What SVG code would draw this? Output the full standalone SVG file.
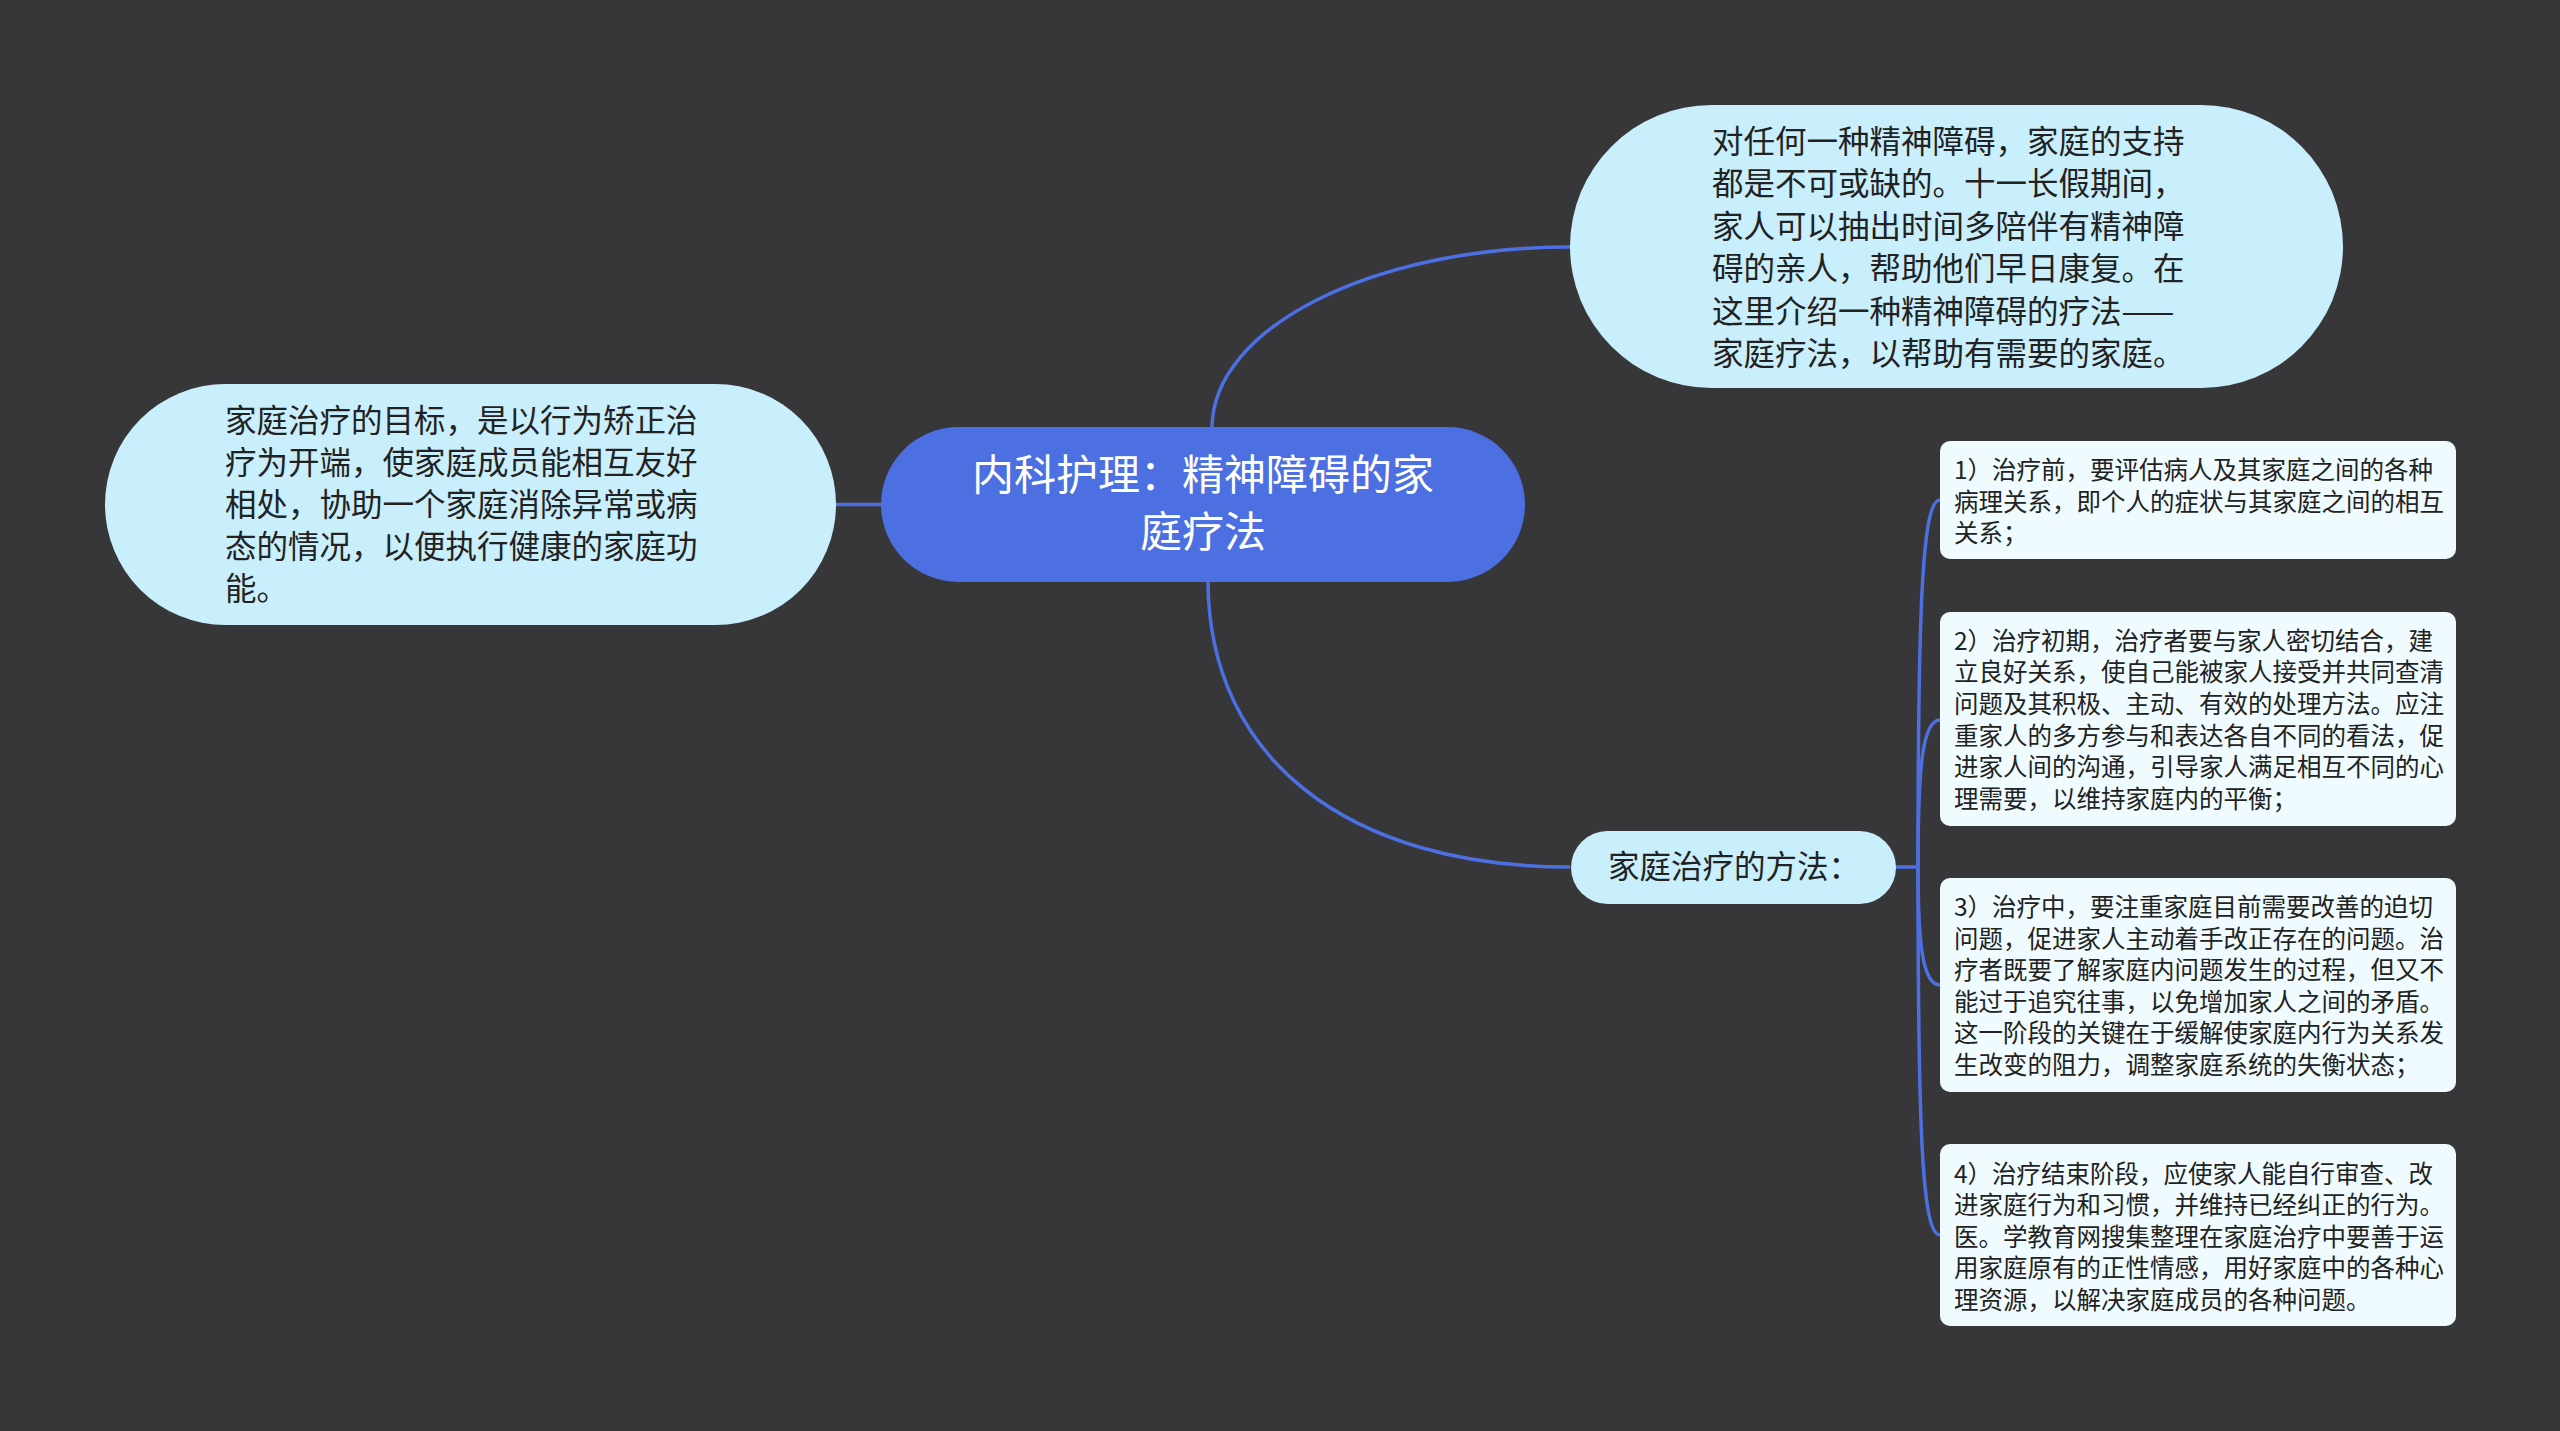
<svg xmlns="http://www.w3.org/2000/svg" width="2560" height="1431" viewBox="0 0 2560 1431">
<style>
text{font-family:"Noto Sans CJK SC","Noto Sans",sans-serif;}
.root-shape{fill:#4c6fe1;}
.root-text{fill:#ffffff;font-size:42px;text-anchor:middle;}
.pill{fill:#c9eefc;}
.body{fill:#222222;font-size:31.5px;}
.leaf{fill:#effbfe;}
.leaf-text{fill:#222222;font-size:24.5px;}
.conn{fill:none;stroke:#4c6fe1;stroke-width:3.5;}
</style>
<rect x="0" y="0" width="2560" height="1431" fill="#373638"/>
<g id="connectors">
<path class="conn" d="M1212,428 C1212,328 1372,247 1570,247"/>
<path class="conn" d="M1208,580 C1208,760 1350,867 1570,867"/>
<path class="conn" d="M882,504.5 L835,504.5"/>
<path class="conn" d="M1895,867 L1918,867"/>
<path class="conn" d="M1918,867 C1918,610 1922,500 1940,500"/>
<path class="conn" d="M1918,867 C1918,770 1922,720 1940,720"/>
<path class="conn" d="M1918,867 C1918,940 1922,985 1940,985"/>
<path class="conn" d="M1918,867 C1918,1130 1922,1235 1940,1235"/>
</g>
<g id="root">
<rect class="root-shape" x="881" y="427" width="644" height="155" rx="77.5"/>
<text class="root-text" x="1203" y="490">内科护理：精神障碍的家</text>
<text class="root-text" x="1203" y="547">庭疗法</text>
</g>
<g id="intro">
<rect class="pill" x="1570" y="105" width="773" height="283" rx="141.5"/>
<text class="body" x="1712" y="153">对任何一种精神障碍，家庭的支持</text>
<text class="body" x="1712" y="195.4">都是不可或缺的。十一长假期间，</text>
<text class="body" x="1712" y="237.8">家人可以抽出时间多陪伴有精神障</text>
<text class="body" x="1712" y="280.2">碍的亲人，帮助他们早日康复。在</text>
<text class="body" x="1712" y="322.6">这里介绍一种精神障碍的疗法——</text>
<text class="body" x="1712" y="365">家庭疗法，以帮助有需要的家庭。</text>
</g>
<g id="goal">
<rect class="pill" x="105" y="384" width="731" height="241" rx="120.5"/>
<text class="body" x="225" y="432">家庭治疗的目标，是以行为矫正治</text>
<text class="body" x="225" y="474">疗为开端，使家庭成员能相互友好</text>
<text class="body" x="225" y="516">相处，协助一个家庭消除异常或病</text>
<text class="body" x="225" y="558">态的情况，以便执行健康的家庭功</text>
<text class="body" x="225" y="600">能。</text>
</g>
<g id="methods">
<rect class="pill" x="1571" y="831" width="325" height="73" rx="36.5"/>
<text class="body" x="1608" y="878">家庭治疗的方法：</text>
</g>
<g id="step1">
<rect class="leaf" x="1940" y="441" width="516" height="118" rx="10"/>
<text class="leaf-text" x="1954" y="479">1）治疗前，要评估病人及其家庭之间的各种</text>
<text class="leaf-text" x="1954" y="510.5">病理关系，即个人的症状与其家庭之间的相互</text>
<text class="leaf-text" x="1954" y="542">关系；</text>
</g>
<g id="step2">
<rect class="leaf" x="1940" y="612" width="516" height="214" rx="10"/>
<text class="leaf-text" x="1954" y="649.5">2）治疗初期，治疗者要与家人密切结合，建</text>
<text class="leaf-text" x="1954" y="681.2">立良好关系，使自己能被家人接受并共同查清</text>
<text class="leaf-text" x="1954" y="712.8">问题及其积极、主动、有效的处理方法。应注</text>
<text class="leaf-text" x="1954" y="744.5">重家人的多方参与和表达各自不同的看法，促</text>
<text class="leaf-text" x="1954" y="776.2">进家人间的沟通，引导家人满足相互不同的心</text>
<text class="leaf-text" x="1954" y="807.8">理需要，以维持家庭内的平衡；</text>
</g>
<g id="step3">
<rect class="leaf" x="1940" y="878" width="516" height="214" rx="10"/>
<text class="leaf-text" x="1954" y="916">3）治疗中，要注重家庭目前需要改善的迫切</text>
<text class="leaf-text" x="1954" y="947.5">问题，促进家人主动着手改正存在的问题。治</text>
<text class="leaf-text" x="1954" y="979">疗者既要了解家庭内问题发生的过程，但又不</text>
<text class="leaf-text" x="1954" y="1010.5">能过于追究往事，以免增加家人之间的矛盾。</text>
<text class="leaf-text" x="1954" y="1042">这一阶段的关键在于缓解使家庭内行为关系发</text>
<text class="leaf-text" x="1954" y="1073.5">生改变的阻力，调整家庭系统的失衡状态；</text>
</g>
<g id="step4">
<rect class="leaf" x="1940" y="1144" width="516" height="182" rx="10"/>
<text class="leaf-text" x="1954" y="1182.8">4）治疗结束阶段，应使家人能自行审查、改</text>
<text class="leaf-text" x="1954" y="1214.3">进家庭行为和习惯，并维持已经纠正的行为。</text>
<text class="leaf-text" x="1954" y="1245.8">医。学教育网搜集整理在家庭治疗中要善于运</text>
<text class="leaf-text" x="1954" y="1277.3">用家庭原有的正性情感，用好家庭中的各种心</text>
<text class="leaf-text" x="1954" y="1308.8">理资源，以解决家庭成员的各种问题。</text>
</g>
</svg>
